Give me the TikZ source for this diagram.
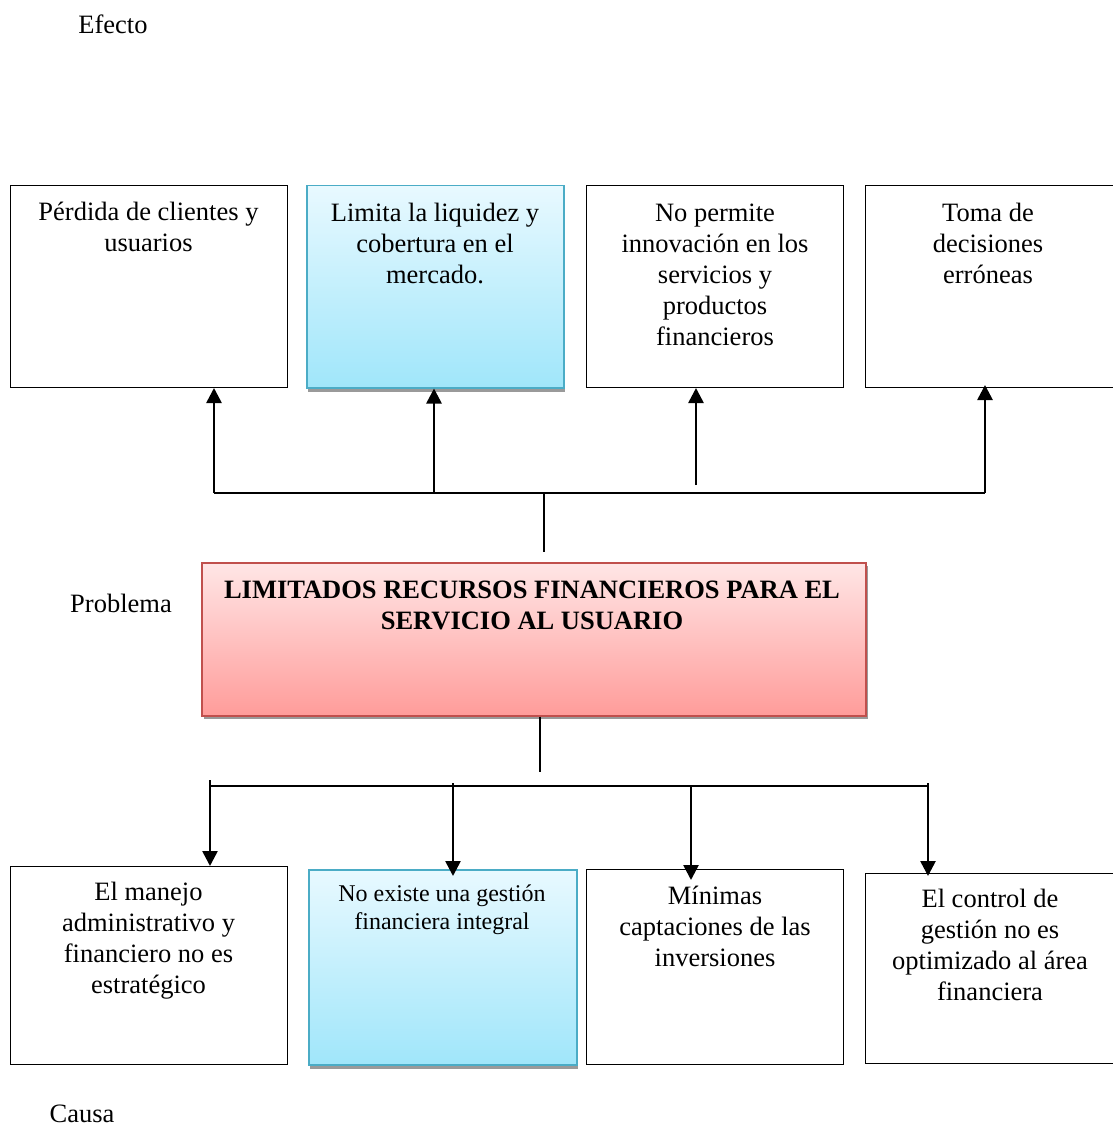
\documentclass[tikz,border=0pt]{standalone}
\usepackage{fontspec}
\setmainfont{Liberation Serif}
\usetikzlibrary{arrows.meta,shadows}
\definecolor{bluetop}{HTML}{E8F9FF}
\definecolor{bluebot}{HTML}{A0E6FA}
\definecolor{blueedge}{HTML}{4BACC6}
\definecolor{redtop}{HTML}{FFE6E6}
\definecolor{redbot}{HTML}{FF9C9A}
\definecolor{rededge}{HTML}{C0504D}
\definecolor{shadowgray}{HTML}{9A9A9A}
\newcommand{\tstrut}{\rule{0pt}{19.9pt}}
\newcommand{\sstrut}{\rule{0pt}{18pt}}
\begin{document}
\begin{tikzpicture}[x=1pt,y=-1pt,
  whitebox/.style={draw=black, line width=1pt, fill=white, inner sep=0pt, anchor=north west},
  bluebox/.style={draw=blueedge, line width=1.5pt, top color=bluetop, bottom color=bluebot, inner sep=0pt, anchor=north west,
    drop shadow={shadow xshift=1pt, shadow yshift=-4pt, opacity=1, fill=shadowgray}},
  redbox/.style={draw=rededge, line width=1.5pt, top color=redtop, bottom color=redbot, inner sep=0pt, anchor=north west,
    drop shadow={shadow xshift=2pt, shadow yshift=-3pt, opacity=1, fill=shadowgray}},
  txt/.style={font=\fontsize{26.5}{31}\selectfont, align=center, inner sep=0pt, anchor=north},
  smalltxt/.style={font=\fontsize{24}{28}\selectfont, align=center, inner sep=0pt, anchor=north},
  lbl/.style={font=\fontsize{26.5}{31}\selectfont, inner sep=0pt, anchor=base},
  arr/.style={line width=2.6pt, -{Triangle[length=15pt,width=15pt]}},
  bus/.style={line width=2pt},
  stub/.style={line width=1.5pt}]
\useasboundingbox (0,0) rectangle (1112,1126);
\fill[white] (0,0) rectangle (1112,1126);

% labels
\node[lbl] (efecto) at (113,34) {Efecto};
\node[lbl] (problema) at (121,612) {Problema};
\node[lbl] (causa) at (82,1122) {Causa};

% effect boxes
\node[whitebox, minimum width=277pt, minimum height=202pt] (b1) at (10,185) {};
\node[bluebox, minimum width=257pt, minimum height=202pt] (b2) at (306,185) {};
\node[whitebox, minimum width=257pt, minimum height=202pt] (b3) at (586,185) {};
\node[whitebox, minimum width=250pt, minimum height=202pt] (b4) at (865,185) {};

\node[txt] (tb1) at (148.5,200) {\tstrut P\'erdida de clientes y\\usuarios};
\node[txt] (tb2) at (435,201) {\tstrut Limita la liquidez y\\cobertura en el\\mercado.};
\node[txt] (tb3) at (715,201) {\tstrut No permite\\innovaci\'on en los\\servicios y\\productos\\financieros};
\node[txt] (tb4) at (988,201) {\tstrut Toma de\\decisiones\\err\'oneas};

% problem box
\node[redbox, minimum width=664pt, minimum height=153pt] (p) at (201,562) {};
\node[txt, font=\fontsize{26.5}{31}\selectfont\bfseries] (tp) at (532,578) {\tstrut LIMITADOS RECURSOS FINANCIEROS PARA EL\\SERVICIO AL USUARIO};

% cause boxes
\node[whitebox, minimum width=277pt, minimum height=198pt] (c1) at (10,866) {};
\node[bluebox, minimum width=268pt, minimum height=195pt] (c2) at (308,869) {};
\node[whitebox, minimum width=257pt, minimum height=195pt] (c3) at (586,869) {};
\node[whitebox, minimum width=250pt, minimum height=190pt] (c4) at (865,873) {};

\node[txt] (tc1) at (148.5,880) {\tstrut El manejo\\administrativo y\\financiero no es\\estrat\'egico};
\node[smalltxt] (tc2) at (442,883.5) {\sstrut No existe una gesti\'on\\financiera integral};
\node[txt] (tc3) at (715,884) {\tstrut M\'inimas\\captaciones de las\\inversiones};
\node[txt] (tc4) at (990,887) {\tstrut El control de\\gesti\'on no es\\optimizado al \'area\\financiera};

% top connectors
\coordinate (u1) at (214,493);
\coordinate (u2) at (434,493);
\coordinate (u3) at (696,485);
\coordinate (u4) at (985,493);
\coordinate (us1) at (544,493);
\coordinate (us2) at (544,552);
\draw[bus] (u1) -- (u4);
\draw[stub] (us1) -- (us2);
\draw[arr] (u1) -- (u1 |- b1.south);
\draw[arr] (u2) -- (u2 |- b2.south);
\draw[arr] (u3) -- (u3 |- b3.south);
\draw[arr] (u4) -- ([yshift=3pt]u4 |- b4.south);

% bottom connectors
\coordinate (ls) at (540,772);
\draw[stub] (p.south -| ls) -- (ls);
\coordinate (d0) at (210,786);
\coordinate (d5) at (928,786);
\draw[bus] (d0) -- (d5);
\coordinate (d1) at (210,780);
\coordinate (d2) at (453,783);
\coordinate (d3) at (691,786);
\coordinate (d4) at (928,783);
\draw[arr] (d1) -- (d1 |- c1.north);
\draw[arr] (d2) -- ([yshift=-7pt]d2 |- c2.north);
\draw[arr] (d3) -- ([yshift=-11pt]d3 |- c3.north);
\draw[arr] (d4) -- ([yshift=-3pt]d4 |- c4.north);
\end{tikzpicture}
\end{document}
